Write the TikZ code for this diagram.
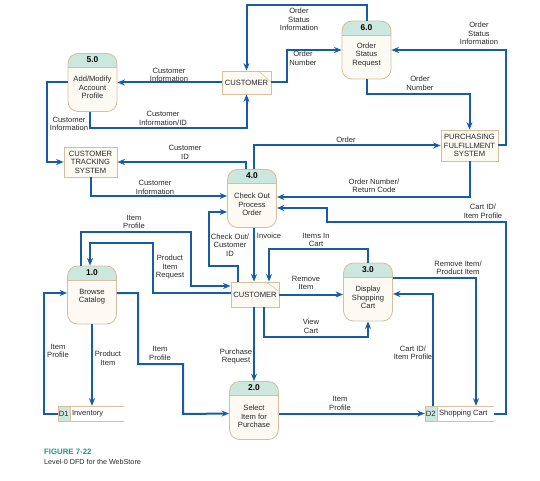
\documentclass[tikz,border=0pt]{standalone}
\usepackage{fontspec}
\setmainfont{Liberation Sans}
\usetikzlibrary{arrows.meta}
\definecolor{flowc}{RGB}{24,92,166}
\definecolor{boxedge}{RGB}{214,190,160}
\definecolor{cream}{RGB}{253,250,244}
\definecolor{hdr}{RGB}{204,231,221}
\definecolor{txt}{RGB}{40,40,40}
\definecolor{figteal}{RGB}{38,150,125}
\begin{document}
\begin{tikzpicture}[x=1pt,y=-1pt,
  font=\fontsize{7.6}{8.5}\selectfont,
  flowline/.style={draw=flowc, line width=2pt, -{Stealth[length=7.5pt,width=6pt]}},
  lbl/.style={align=center, text=txt, inner sep=0pt},
  proc/.style={draw=boxedge, fill=cream, line width=0.8pt, rounded corners=10pt,
    minimum width=49pt, minimum height=58pt, inner sep=0pt,
    path picture={\fill[hdr,sharp corners] (path picture bounding box.north west) rectangle ([yshift=-14pt]path picture bounding box.north east);
      \draw[boxedge,line width=0.5pt,sharp corners] ([yshift=-14pt]path picture bounding box.north west) -- ([yshift=-14pt]path picture bounding box.north east);}},
  num/.style={font=\fontsize{8.4}{9}\selectfont\bfseries, inner sep=0pt},
  ptext/.style={align=center, inner sep=0pt, text=txt},
  entity/.style={draw=boxedge, fill=cream, line width=0.8pt, inner sep=0pt, align=center, text=txt},
  storebox/.style={inner sep=0pt, minimum height=15pt},
]
\useasboundingbox (0,0) rectangle (540,481);

% ---------- processes ----------
\node[proc] (p5) at (92.5,82.5) {};
\node[num] (p5n) at ([yshift=-7pt]p5.north) {5.0};
\node[ptext] (p5t) at ([yshift=-5pt]p5.center) {Add/Modify\\Account\\Profile};

\node[proc] (p6) at (366.5,50) {};
\node[num] (p6n) at ([yshift=-7pt]p6.north) {6.0};
\node[ptext] (p6t) at ([yshift=-5pt]p6.center) {Order\\Status\\Request};

\node[proc] (p4) at (252,198.5) {};
\node[num] (p4n) at ([yshift=-7pt]p4.north) {4.0};
\node[ptext] (p4t) at ([yshift=-6pt]p4.center) {Check Out\\Process\\Order};

\node[proc] (p1) at (92,295) {};
\node[num] (p1n) at ([yshift=-7pt]p1.north) {1.0};
\node[ptext] (p1t) at ([yshift=-1.5pt]p1.center) {Browse\\Catalog};

\node[proc] (p3) at (368,292) {};
\node[num] (p3n) at ([yshift=-7pt]p3.north) {3.0};
\node[ptext] (p3t) at ([yshift=-5.5pt]p3.center) {Display\\Shopping\\Cart};

\node[proc] (p2) at (254,410.5) {};
\node[num] (p2n) at ([yshift=-7pt]p2.north) {2.0};
\node[ptext] (p2t) at ([yshift=-6pt]p2.center) {Select\\Item for\\Purchase};

% ---------- external entities ----------
\node[entity, minimum width=49pt, minimum height=23pt] (c1) at (246.5,82.5) {CUSTOMER};
\draw[boxedge, line width=0.5pt] ([xshift=-13pt]c1.north east) -- ([yshift=-12pt]c1.north east);
\node[entity, minimum width=48pt, minimum height=25pt] (c2) at (255,294.5) {CUSTOMER};
\draw[boxedge, line width=0.5pt] ([xshift=-14pt]c2.north east) -- ([yshift=-10pt]c2.north east);
\node[entity, minimum width=53pt, minimum height=30pt] (cts) at (90.5,162) {CUSTOMER\\TRACKING\\SYSTEM};
\node[entity, minimum width=57pt, minimum height=31pt] (pfs) at (469.5,145.5) {PURCHASING\\FULFILLMENT\\SYSTEM};

% ---------- data stores ----------
\node[storebox, minimum width=66pt] (d1) at (91,413.5) {};
\draw[boxedge, line width=0.6pt] (d1.north west) -- (d1.north east) (d1.south west) -- (d1.south east);
\draw[boxedge, line width=0.6pt, fill=hdr] (d1.north west) rectangle ([xshift=12pt]d1.south west);
\node[inner sep=0pt, text=txt] (d1id) at ([xshift=6pt]d1.west) {D1};
\node[inner sep=0pt, anchor=west, text=txt] (d1name) at ([xshift=14pt]d1.west) {Inventory};

\node[storebox, minimum width=69pt] (d2) at (459.5,413.5) {};
\draw[boxedge, line width=0.6pt] (d2.north west) -- (d2.north east) (d2.south west) -- (d2.south east);
\draw[boxedge, line width=0.6pt, fill=hdr] (d2.north west) rectangle ([xshift=12pt]d2.south west);
\node[inner sep=0pt, text=txt] (d2id) at ([xshift=6pt]d2.west) {D2};
\node[inner sep=0pt, anchor=west, text=txt] (d2name) at ([xshift=14pt]d2.west) {Shopping Cart};

% ---------- flows ----------
\draw[flowline] (p6.north) |- (246.5,5) -- (c1.north);
\draw[flowline] (c1.east) -| (287,50) -- (p6.west);
\draw[flowline] (c1.west) -- (p5.east);
\draw[flowline] ([xshift=-2.5pt]p5.south) |- (246.5,128) -- (c1.south);
\draw[flowline] (p5.west) -- (47,82.5) |- (cts.west);
\draw[flowline] ([xshift=-6pt]p4.north) |- (cts.east);
\draw[flowline] ([xshift=2pt]p4.north) |- (pfs.west);
\draw[flowline] (cts.south) |- ([yshift=2.5pt]p4.west);
\draw[flowline] (p6.south) |- (469.5,94) -- (pfs.north);
\draw[flowline] (pfs.east) -- (506,145.5) |- (p6.east);
\draw[flowline] (pfs.south) |- ([yshift=1.5pt]p4.east);
\draw[flowline] (d2.east) -- (506,413.5) |- (327,222) |- ([yshift=-9.5pt]p4.east);
\draw[flowline] ([xshift=2pt]p4.south) -- ([xshift=-1pt]c2.north);
\draw[flowline] ([xshift=-17pt]c2.north) |- (209,266) |- ([yshift=-13.5pt]p4.west);
\draw[flowline] (p3.north) |- (269,249) -- ([xshift=14pt]c2.north);
\draw[flowline] (c2.east) -- (c2.east -| p3.west);
\draw[flowline] ([xshift=9pt]c2.south) -- (264,337) -| (p3.south);
\draw[flowline] ([yshift=14pt]p3.east) -| ([xshift=16.5pt]d2.north);
\draw[flowline] ([xshift=-26.5pt]d2.north) |- ([yshift=-2pt]p3.east);
\draw[flowline] (p2.east |- d2.west) -- (d2.west);
\draw[flowline] ([xshift=-1pt]c2.south) -- (p2.north);
\draw[flowline] ([xshift=-11pt]p1.north) |- (191,232) |- ([yshift=8.5pt]c2.west);
\draw[flowline] ([yshift=1.5pt]c2.west) -| (153,243) -| ([xshift=-2pt]p1.north);
\draw[flowline] (d1.west) -- (44,413.5) |- ([yshift=2pt]p1.west);
\draw[flowline] (p1.south) -- (p1.south |- d1.north);
\draw[flowline] ([yshift=2pt]p1.east) -| (138,364) -| (183,414) -- (p2.west |- d2.west);

% ---------- flow labels ----------
\node[lbl] (l1) at (299,19.5) {Order\\Status\\Information};
\node[lbl] (l2) at (303,58.5) {Order\\Number};
\node[lbl] (l3) at (169,75) {Customer\\Information};
\node[lbl] (l4) at (163,118.5) {Customer\\Information/ID};
\node[lbl] (l5) at (69,124) {Customer\\Information};
\node[lbl] (l6) at (185,152.5) {Customer\\ID};
\node[lbl] (l7) at (346,140) {Order};
\node[lbl] (l8) at (155,187.5) {Customer\\Information};
\node[lbl] (l9) at (420,83.5) {Order\\Number};
\node[lbl] (l10) at (479,33.5) {Order\\Status\\Information};
\node[lbl] (l11) at (374,186) {Order Number/\\Return Code};
\node[lbl] (l12) at (483,211.5) {Cart ID/\\Item Profile};
\node[lbl] (l13) at (269,236) {Invoice};
\node[lbl] (l14) at (230,245) {Check Out/\\Customer\\ID};
\node[lbl] (l15) at (316,240) {Items In\\Cart};
\node[lbl] (l16) at (306,283) {Remove\\Item};
\node[lbl] (l17) at (311,326.5) {View\\Cart};
\node[lbl] (l18) at (458,268) {Remove Item/\\Product Item};
\node[lbl] (l19) at (413,353) {Cart ID/\\Item Profile};
\node[lbl] (l20) at (340,403.5) {Item\\Profile};
\node[lbl] (l21) at (236,356.5) {Purchase\\Request};
\node[lbl] (l22) at (134,222) {Item\\Profile};
\node[lbl] (l23) at (170,267.5) {Product\\Item\\Request};
\node[lbl] (l24) at (58,351) {Item\\Profile};
\node[lbl] (l25) at (108,358.5) {Product\\Item};
\node[lbl] (l26) at (160,353.5) {Item\\Profile};

% ---------- caption ----------
\node[anchor=west, inner sep=0pt, text=figteal, font=\fontsize{7.8}{9}\selectfont\bfseries] (fig) at (44,452) {FIGURE 7-22};
\node[anchor=west, inner sep=0pt, text=txt, font=\fontsize{7.2}{9}\selectfont] (cap) at (44,462) {Level-0 DFD for the WebStore};
\end{tikzpicture}
\end{document}
